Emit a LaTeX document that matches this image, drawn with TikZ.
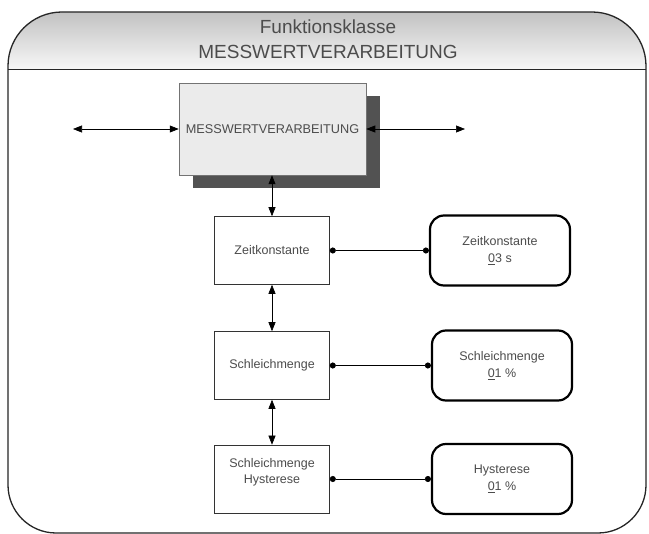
\documentclass[tikz,border=0pt]{standalone}
\usepackage{fontspec}
\setmainfont{Liberation Sans}
\usetikzlibrary{arrows.meta,shadows}
\begin{document}
\begin{tikzpicture}[x=1pt,y=-1pt,
  lbl/.style={text=black!70, align=center, inner sep=0pt},
  fnbox/.style={lbl, draw=black!80, line width=0.6pt, fill=white,
    minimum width=115pt, minimum height=68pt, font=\fontsize{12.5}{16}\selectfont},
  parbox/.style={lbl, draw=black, line width=2.2pt, rounded corners=14pt, fill=white,
    minimum width=140pt, minimum height=70pt, font=\fontsize{12.5}{17}\selectfont},
  link/.style={line width=0.6pt, {Triangle[length=9pt,width=7pt]}-{Triangle[length=9pt,width=7pt]}},
  tie/.style={line width=0.6pt, {Circle[length=6pt]}-{Circle[length=6pt]}},
  frame/.style={line width=1.3pt, draw=black!85}]

\useasboundingbox (0,0) rectangle (649,534);
\fill[white] (0,0) rectangle (649,534);

% header band with a soft grey gradient
\begin{scope}
  \clip[rounded corners=54pt] (8,12) rectangle (646,533);
  \shade[top color=black!24, bottom color=black!3] (8,12) rectangle (646,69.5);
\end{scope}

% outer frame and header separator
\draw[frame] (8,300) [rounded corners=54pt] |- (327,12) -| (646,300)
  [rounded corners=48pt] |- (327,533) -| (8,300) -- cycle;
\draw[frame] (8,69.5) -- (646,69.5);

\node[lbl, font=\fontsize{19}{25}\selectfont] (title) at (328,39.5)
  {Funktionsklasse\\MESSWERTVERARBEITUNG};

% function block with drop shadow
\node[lbl, draw=black!55, line width=0.5pt, fill=black!8,
  minimum width=187pt, minimum height=92pt, font=\fontsize{12.7}{15}\selectfont,
  drop shadow={shadow xshift=14pt, shadow yshift=-13pt, fill=black!68, opacity=1}]
  (mw) at (272.5,129) {MESSWERTVERARBEITUNG};

\coordinate (inL) at (73,129);
\coordinate (outR) at (465,129);
\draw[link] (inL) -- (mw.west);
\draw[link] (mw.east) -- (outR);

% parameter chain
\node[fnbox] (zk) at (272,250.5) {Zeitkonstante};
\node[fnbox] (sm) at (272,365.5) {Schleichmenge};
\node[fnbox] (hy) at (272,479) {Schleichmenge\\Hysterese\\\mbox{}};

\node[parbox] (p1) at (500,250.5) {Zeitkonstante\\\underline{0}3 s};
\node[parbox] (p2) at (502,365.5) {Schleichmenge\\\underline{0}1 \%};
\node[parbox] (p3) at (502,479) {Hysterese\\\underline{0}1 \%};

\draw[link] (mw.south -| zk.north) -- (zk.north);
\draw[link] (zk.south) -- (sm.north);
\draw[link] (sm.south) -- (hy.north);

\draw[tie] (zk.east) -- (p1.west);
\draw[tie] (sm.east) -- (p2.west);
\draw[tie] (hy.east) -- (p3.west);
\end{tikzpicture}
\end{document}
